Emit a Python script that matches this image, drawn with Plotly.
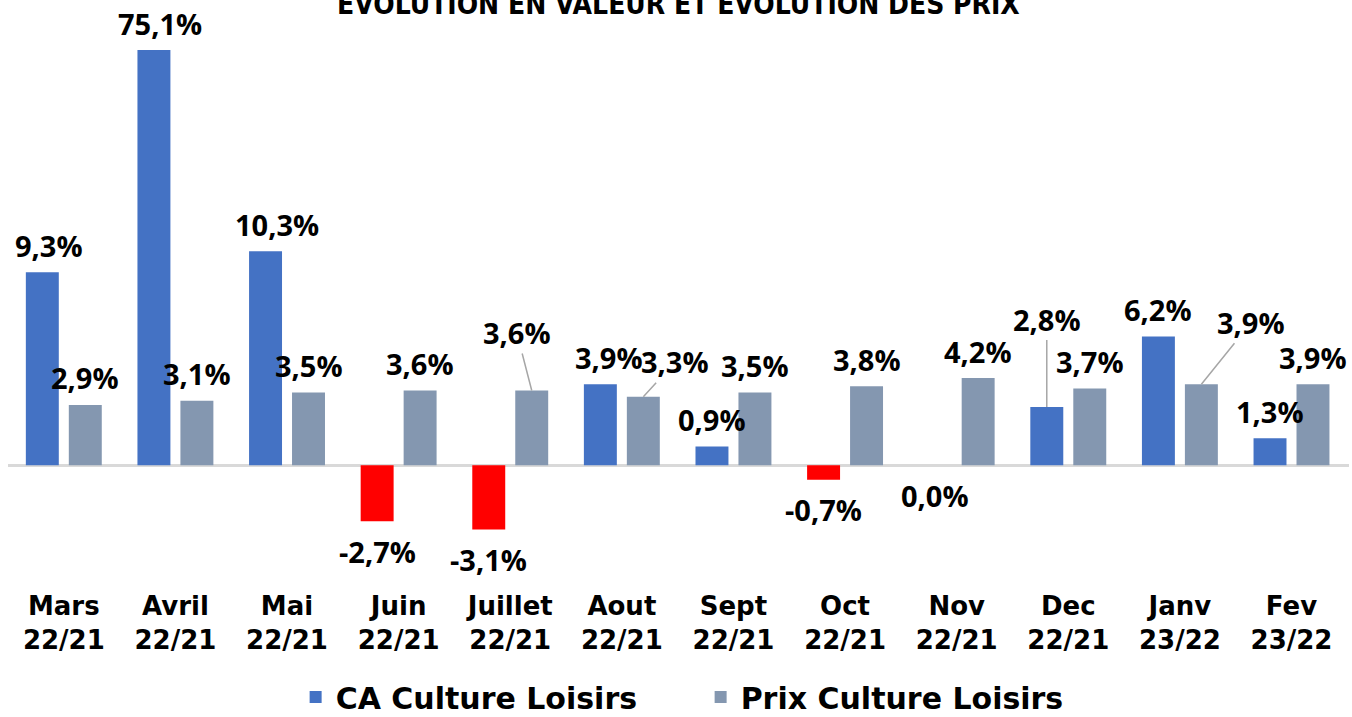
import plotly.graph_objects as go

# ---- data ----
months = ["Mars", "Avril", "Mai", "Juin", "Juillet", "Aout", "Sept", "Oct", "Nov", "Dec", "Janv", "Fev"]
periods = ["22/21"] * 10 + ["23/22", "23/22"]
ca_values = [9.3, 75.1, 10.3, -2.7, -3.1, 3.9, 0.9, -0.7, 0.0, 2.8, 6.2, 1.3]
prix_values = [2.9, 3.1, 3.5, 3.6, 3.6, 3.3, 3.5, 3.8, 4.2, 3.7, 3.9, 3.9]
series_names = ["CA Culture Loisirs", "Prix Culture Loisirs"]
title_text = "EVOLUTION EN VALEUR ET EVOLUTION DES PRIX"

# ---- style ----
BLUE = "#4472C4"
RED = "#FF0000"
GREY = "#8497B0"
FONT = "DejaVu Sans"
LABEL_FONT = "Open Sans"
Y_MIN, Y_MAX = -5.53, 20.0
BAR_OFF = 21.5  # px offset of each bar from its group centre

categories = [f"{m}<br>{p}" for m, p in zip(months, periods)]
ca_colors = [RED if v < 0 else BLUE for v in ca_values]

fig = go.Figure()
fig.add_trace(go.Bar(x=categories, y=ca_values, name=series_names[0],
                     marker=dict(color=ca_colors, line=dict(width=0))))
fig.add_trace(go.Bar(x=categories, y=prix_values, name=series_names[1],
                     marker=dict(color=GREY, line=dict(width=0))))

def fmt(v):
    return f"{v:.1f}%".replace(".", ",")

# label placement styles (pixel offsets)
ca_dx = {0: 7, 1: 6, 2: 11, 5: 9}
leaders_ca = {9: (0, -88)}
leaders_prix = {4: (-15, -58), 5: (32, -35), 10: (50, -62)}

annotations = []
def add_labels(values, side, dxmap, leaders):
    for i, v in enumerate(values):
        yv = min(v, Y_MAX)
        base = dict(x=categories[i], y=yv, xref="x", yref="y", text=fmt(v),
                    font=dict(family=LABEL_FONT, size=29, color="#000000", weight="bold"))
        if i in leaders:
            ax, ay = leaders[i]
            base.update(showarrow=True, arrowhead=0, arrowwidth=1.5, arrowcolor="#A6A6A6",
                        ax=ax, ay=ay, xshift=side * BAR_OFF, standoff=0)
        else:
            dy = 30 if v <= 0 else 27
            base.update(showarrow=False, xshift=side * BAR_OFF + dxmap.get(i, 0),
                        yshift=(-dy if v <= 0 else dy), yanchor="middle")
        annotations.append(base)

add_labels(ca_values, -1, ca_dx, leaders_ca)
add_labels(prix_values, 1, {}, leaders_prix)

annotations.append(dict(text=title_text, xref="paper", yref="paper", x=0.5, y=1,
                        xanchor="center", yanchor="bottom", yshift=27, showarrow=False,
                        font=dict(family="DejaVu Sans Condensed, DejaVu Sans, sans-serif",
                                  size=28, color="#000000", weight="bold")))

fig.update_layout(
    width=1352, height=717,
    margin=dict(l=8, r=3, t=50, b=137, autoexpand=False),
    paper_bgcolor="white", plot_bgcolor="white",
    barmode="group", bargap=0.23, bargroupgap=0.233,
    showlegend=True,
    legend=dict(orientation="h", x=0.5165, xanchor="center", yref="container",
                y=0.028, yanchor="middle",
                font=dict(family=FONT, size=30, color="#000000", weight="bold"),
                entrywidth=360, itemwidth=30, traceorder="normal"),
    annotations=annotations,
    font=dict(family=FONT, color="#000000"),
)
fig.update_xaxes(showgrid=False, showline=False, ticks="", ticklabelstandoff=8, automargin=False,
                 tickfont=dict(family=FONT, size=26, color="#000000", weight="bold"))
fig.update_yaxes(range=[Y_MIN, Y_MAX], showgrid=False, showticklabels=False, zeroline=True,
                 zerolinecolor="#D9D9D9", zerolinewidth=3, showline=False, ticks="",
                 automargin=False)

fig.write_html("out.html", config={"displayModeBar": False},
               post_script="document.body.style.margin='0';")
